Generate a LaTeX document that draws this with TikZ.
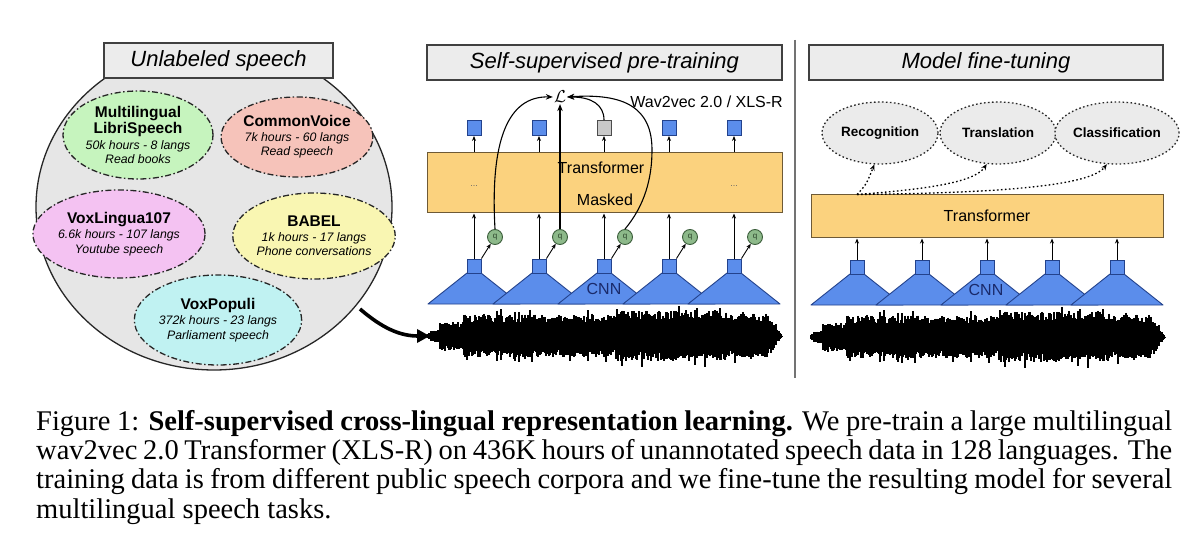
\documentclass[tikz,border=0pt]{standalone}
\usepackage{fontspec}
\setmainfont{Liberation Serif}
\newfontfamily\sansf{Liberation Sans}
\usetikzlibrary{shapes.geometric,arrows.meta,calc}

\definecolor{cgray}{HTML}{E6E6E6}
\definecolor{boxgray}{HTML}{ECECEC}
\definecolor{cgreen}{HTML}{C6F4BE}
\definecolor{cpink}{HTML}{F6C3BA}
\definecolor{cmag}{HTML}{F4C2F2}
\definecolor{cyell}{HTML}{F9F6B2}
\definecolor{ccyan}{HTML}{C0F2F2}
\definecolor{tfill}{HTML}{FBD27E}
\definecolor{tedge}{HTML}{6E5A36}
\definecolor{bfill}{HTML}{5B8DEB}
\definecolor{bedge}{HTML}{23428C}
\definecolor{qfill}{HTML}{8DB98A}
\definecolor{qedge}{HTML}{3B5E3B}
\definecolor{sqgray}{HTML}{C9C9C9}
\definecolor{taskfill}{HTML}{EBEBEB}
\definecolor{cnntext}{HTML}{1A2A6A}

\newcommand\titf{\sansf\bfseries\fontsize{15.5}{17}\selectfont}
\newcommand\subf{\sansf\itshape\fontsize{12.3}{14}\selectfont}

\newcommand\mywave[2]{%
  \pgfmathsetseed{4242}%
  \foreach \i in {0,...,354}{%
    \pgfmathsetmacro\env{\i<3 ? 2+\i : (\i<12 ? 6 : (\i<36 ? 14 : (\i<190 ? 21 : (\i<300 ? 25 : (\i<340 ? 22 : 22*(354-\i)/14)))))}%
    \pgfmathsetmacro\spk{rnd>0.9 ? 1.25 : 1}%
    \pgfmathsetmacro\wu{\env*\spk*(0.6+0.4*rnd)}%
    \pgfmathsetmacro\wd{\env*\spk*(0.6+0.4*rnd)}%
    \draw[wavebar] ({#1+\i},{#2-\wu-0.5}) -- ({#1+\i},{#2+\wd+0.5});
  }}

\newcommand\cnnstack[3]{%
  \draw[cnnshape] ({#1-7},#2) -- ({#1-46},{#2+31}) -- ({#1+46},{#2+31}) -- ({#1+7},#2) -- cycle;
  \node[cnnsq] (#3) at (#1,{#2-7}) {};
}

\tikzset{
  titlebox/.style={draw=black!75, line width=1.2pt, fill=boxgray, inner sep=0pt,
    font=\sansf\itshape\fontsize{22}{24}\selectfont},
  src/.style={ellipse, draw=black!85, line width=1.3pt,
    dash pattern=on 6pt off 2.5pt on 1.5pt off 2.5pt, inner sep=0pt, align=center},
  tbox/.style={draw=tedge, line width=1pt, fill=tfill, inner sep=0pt},
  cnnshape/.style={fill=bfill, draw=bedge, line width=0.9pt, line join=round},
  cnnsq/.style={rectangle, fill=bfill, draw=bedge, line width=0.9pt, minimum width=14pt, minimum height=14pt, inner sep=0pt},
  outsq/.style={rectangle, fill=bfill, draw=bedge, line width=0.9pt, minimum width=14pt, minimum height=15pt, inner sep=0pt},
  qn/.style={circle, fill=qfill, draw=qedge, line width=0.9pt, minimum size=15pt, inner sep=0pt,
    font=\sansf\fontsize{8}{8}\selectfont, text=qedge!70!black},
  arr/.style={-{Stealth[length=5pt,width=4pt]}, line width=0.9pt},
  curv/.style={-{Stealth[length=7pt,width=5.5pt]}, line width=1.1pt},
  task/.style={ellipse, draw=black!85, fill=taskfill, line width=1.3pt, dash pattern=on 1.6pt off 2.4pt,
    minimum width=116pt, minimum height=62pt, inner sep=0pt,
    font=\sansf\bfseries\fontsize{13.5}{15}\selectfont},
  dotarr/.style={-{Stealth[length=6pt,width=5pt]}, line width=1.3pt, dash pattern=on 1.6pt off 2.4pt},
  wavebar/.style={line width=1.3pt, black},
  lbl/.style={font=\sansf\fontsize{16}{18}\selectfont, inner sep=0pt},
  capline/.style={anchor=base west, inner sep=0pt, font=\fontsize{28.5}{29.3}\selectfont},
}

\begin{document}
\begin{tikzpicture}[x=1pt,y=-1pt]
\useasboundingbox (0,0) rectangle (1200,548);
\fill[white] (0,0) rectangle (1200,548);

% ---------------- Left: unlabeled speech pool ----------------
\node[ellipse, draw=black!85, fill=cgray, line width=1.3pt, minimum width=356pt, minimum height=326pt, inner sep=0pt] (pool) at (214,207) {};
\node[titlebox, minimum width=229pt, minimum height=35pt] (t1) at (218.5,60.5) {Unlabeled speech};

\node[src, fill=cgreen, minimum width=150pt, minimum height=88pt] (mls) at (138,135)
  {\titf Multilingual\\[0.5pt]\titf LibriSpeech\\[2.5pt]\subf 50k hours - 8 langs\\[2.5pt]\subf Read books};
\node[src, fill=cpink, minimum width=150pt, minimum height=80pt] (cv) at (297,137)
  {\titf CommonVoice\\[2.5pt]\subf 7k hours - 60 langs\\[2.5pt]\subf Read speech};
\node[src, fill=cmag, minimum width=160pt, minimum height=88pt] (vl) at (119,234)
  {\titf VoxLingua107\\[2.5pt]\subf 6.6k hours - 107 langs\\[2.5pt]\subf Youtube speech};
\node[src, fill=cyell, minimum width=155pt, minimum height=86pt] (bab) at (314,236)
  {\titf BABEL\\[2.5pt]\subf 1k hours - 17 langs\\[2.5pt]\subf Phone conversations};
\node[src, fill=ccyan, minimum width=162pt, minimum height=90pt] (vp) at (218,320)
  {\titf VoxPopuli\\[2.5pt]\subf 372k hours - 23 langs\\[2.5pt]\subf Parliament speech};

% ---------------- Middle: pre-training ----------------
\node[titlebox, minimum width=355pt, minimum height=35pt] (t2) at (604.5,62.5) {Self-supervised pre-training};

\node[tbox, minimum width=355pt, minimum height=60pt] (tm) at (604.5,183) {};
\node[lbl] (tmt) at (601,168) {Transformer};
\node[lbl] (tmm) at (605,200) {Masked};
\node[font=\sansf\fontsize{9}{9}\selectfont, text=black!60, inner sep=0pt] (d1) at (474,186) {...};
\node[font=\sansf\fontsize{9}{9}\selectfont, text=black!60, inner sep=0pt] (d2) at (734,186) {...};

\foreach \x [count=\n] in {474,539,604,669,734} {
  \cnnstack{\x}{273}{m\n}
}
\node[lbl, text=cnntext] (cnn1) at (604,289) {CNN};

\foreach \x [count=\n] in {474,539,604,669,734} {
  \node[qn] (q\n) at ({\x+21},237) {q};
  \draw[arr] (m\n.north) -- (m\n.north |- tm.south);
  \draw[arr] (m\n.north east) -- (q\n);
}
\foreach \x [count=\n] in {474,539,669,734} {
  \node[outsq] (o\n) at (\x,128) {};
  \draw[arr] (o\n.south |- tm.north) -- (o\n.south);
}
\node[outsq, fill=sqgray, draw=black!70] (og) at (604,128) {};
\draw[arr] (og.south |- tm.north) -- (og.south);

\node[inner sep=1pt] (L) at (560,97) {\fontsize{17}{17}\selectfont$\mathcal{L}$};
\node[lbl, anchor=east] (wlab) at (783,102) {Wav2vec 2.0 / XLS-R};

\draw[curv] (q1.north) .. controls (490,140) and (508,96) .. (L.west);
\draw[curv] (q2.north) -- (L.south);
\draw[curv] (q3.north) .. controls (645,205) and (652,178) .. (652,150) .. controls (652,108) and (625,93) .. (L.east);
\draw[curv] (og.north) .. controls (604,105) and (592,97) .. (L.east);

\mywave{428}{336}

% arrow from pool to waveform
\coordinate (astart) at (360,309);
\coordinate (wstart) at (430,336);
\draw[line width=3.6pt, -{Triangle[length=13pt,width=13pt]}] (astart) .. controls (382,328) and (400,336) .. (wstart);

% separator
\coordinate (s1) at (795,40);
\coordinate (s2) at (795,378);
\draw[black!55, line width=1.6pt] (s1) -- (s2);

% ---------------- Right: fine-tuning ----------------
\node[titlebox, minimum width=354pt, minimum height=35pt] (t3) at (986,62.5) {Model fine-tuning};

\node[task] (rec) at (880,133) {Recognition};
\node[task] (trn) at (998,133) {Translation};
\node[task] (cls) at (1117,133) {Classification};

\node[tbox, minimum width=352pt, minimum height=43pt] (rt) at (987,216.5) {};
\node[lbl] (rtt) at (987,216) {Transformer};

\foreach \x [count=\n] in {857,922,987,1052,1117} {
  \cnnstack{\x}{274}{r\n}
}
\node[lbl, text=cnntext] (cnn2) at (986,290) {CNN};
\foreach \n in {1,...,5} {
  \draw[arr] (r\n.north) -- (r\n.north |- rt.south);
}

\coordinate (ds) at (r1.north |- rt.north);
\draw[dotarr] (ds) .. controls (866,185) .. (rec.-100);
\draw[dotarr] (ds) .. controls (930,189) and (975,182) .. (trn.-110);
\draw[dotarr] (ds) .. controls (1000,193) and (1090,186) .. (cls.-108);

\mywave{811}{337}

% ---------------- Caption ----------------
\node[capline] (c1) at (36,430) {\makebox[1136pt][s]{Figure 1: \textbf{Self-supervised cross-lingual representation learning.} We pre-train a large multilingual}};
\node[capline] (c2) at (36,459.3) {\makebox[1136pt][s]{wav2vec 2.0 Transformer (XLS-R) on 436K hours of unannotated speech data in 128 languages. The}};
\node[capline] (c3) at (36,488.6) {\makebox[1136pt][s]{training data is from different public speech corpora and we fine-tune the resulting model for several}};
\node[capline] (c4) at (36,518) {multilingual speech tasks.};
\end{tikzpicture}
\end{document}
